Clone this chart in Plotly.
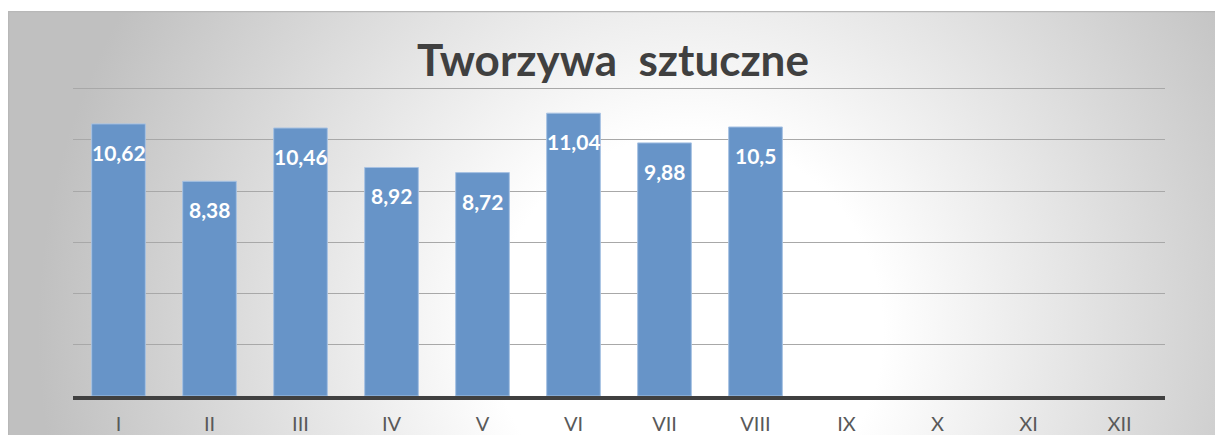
import base64
import plotly.graph_objects as go

# ---- data ----
months = ["I", "II", "III", "IV", "V", "VI", "VII", "VIII", "IX", "X", "XI", "XII"]
values = [10.62, 8.38, 10.46, 8.92, 8.72, 11.04, 9.88, 10.5, None, None, None, None]
labels = [f"{v:g}".replace(".", ",") for v in values if v is not None]
title_text = "Tworzywa  sztuczne"

W, H = 1215, 435
L, R, T, B = 73, 50, 86, 39
pw, ph = W - L - R, H - T - B

# radial gradient background as inline SVG
bw, bh = W - 8, H - 11
svg = f'''<svg xmlns="http://www.w3.org/2000/svg" width="{bw}" height="{bh}" viewBox="0 0 {bw} {bh}" preserveAspectRatio="none">
<defs><radialGradient id="g" gradientUnits="userSpaceOnUse" cx="680" cy="320" r="650">
<stop offset="0" stop-color="#ffffff"/><stop offset="0.3" stop-color="#ffffff"/>
<stop offset="1" stop-color="#c0c0c0"/></radialGradient></defs>
<rect x="0" y="0" width="{bw}" height="{bh}" fill="url(#g)"/>
<path d="M0.5,{bh} L0.5,0.5 L{bw},0.5" fill="none" stroke="#b8b8b8" stroke-width="1.5"/>
</svg>'''
src = "data:image/svg+xml;base64," + base64.b64encode(svg.encode()).decode()

fig = go.Figure()
fig.add_trace(go.Bar(
    x=months, y=values,
    marker=dict(color="#6794C8", line=dict(color="#A7C2E3", width=1)),
    hoverinfo="skip",
))

for m, v, t in zip(months, values, labels):
    fig.add_annotation(x=m, y=v, text=f"<b>{t}</b>", showarrow=False,
                       yanchor="top", yshift=-14,
                       font=dict(family="Lato", size=21, color="white"))

fig.update_layout(
    width=W, height=H,
    margin=dict(l=L, r=R, t=T, b=B, autoexpand=False),
    paper_bgcolor="white",
    plot_bgcolor="rgba(0,0,0,0)",
    showlegend=False,
    bargap=0.41,
    title=dict(text=f"<b>{title_text}</b>", x=613 / W, xanchor="center",
               y=1 - 61 / H, yanchor="middle", yref="container",
               font=dict(family="Lato", size=44, color="#404040")),
    images=[dict(source=src, xref="paper", yref="paper",
                 x=(8 - L) / pw, y=(H - B - 11) / ph,
                 sizex=bw / pw, sizey=bh / ph,
                 xanchor="left", yanchor="top", sizing="stretch", layer="below")],
    xaxis=dict(showline=True, linecolor="#404040", linewidth=4,
               ticks="outside", ticklen=7, tickcolor="rgba(0,0,0,0)",
               tickfont=dict(family="Lato", size=20, color="#595959"),
               showgrid=False, fixedrange=True, automargin=False),
    yaxis=dict(range=[0, 12.1], tickvals=[2, 4, 6, 8, 10, 12], showticklabels=False,
               showgrid=True, gridcolor="#A8A8A8", gridwidth=1.3, zeroline=False,
               fixedrange=True, automargin=False),
)

fig.write_html("out.html", config={"displayModeBar": False},
               post_script="document.body.style.margin='0';")
